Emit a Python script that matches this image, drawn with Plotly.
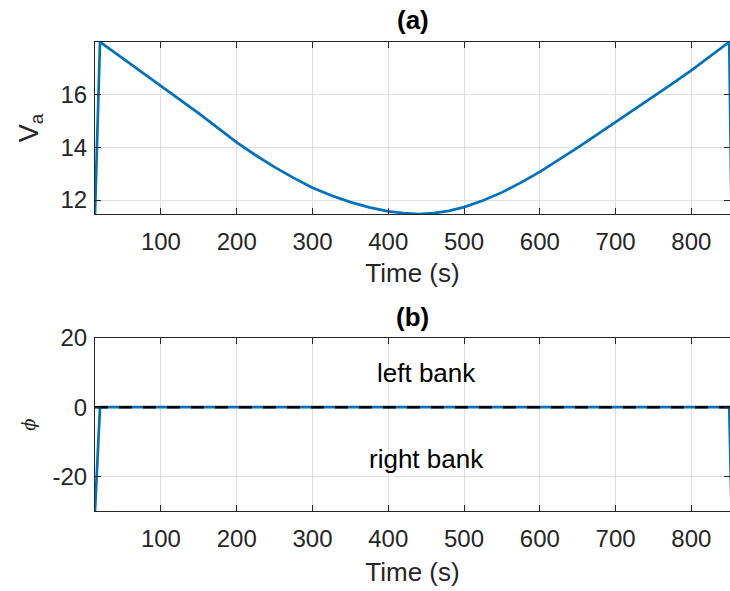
import plotly.graph_objects as go

# ---- data ----
t_va = [13, 19.6, 25, 50, 75, 100, 125, 150, 175, 200, 225, 250, 275, 300, 325, 350,
        375, 400, 420, 440, 460, 480, 500, 525, 550, 575, 600, 625, 650, 675, 700,
        725, 750, 775, 800, 825, 850, 853]
va = [11.47, 18.0, 17.89, 17.37, 16.87, 16.36, 15.83, 15.29, 14.74, 14.19, 13.70,
      13.25, 12.84, 12.47, 12.17, 11.92, 11.72, 11.57, 11.50, 11.47, 11.50, 11.59,
      11.73, 11.98, 12.29, 12.66, 13.07, 13.52, 13.99, 14.47, 14.95, 15.44, 15.93,
      16.42, 16.92, 17.45, 18.0, 11.5]

t_phi = [13, 15.2, 19.6, 850, 853]
phi = [-30, -20, 0, 0, -30]

ref_t = [13, 851]
ref_phi = [0, 0]

x_ticks = [100, 200, 300, 400, 500, 600, 700, 800]
va_ticks = [12, 14, 16]
phi_ticks = [-20, 0, 20]
phi_tick_text = ["-20", "0", "20"]

x_range = [13, 851]
va_range = [11.47, 18.0]
phi_range = [-30, 20]

# ---- styles ----
BLUE = "#0072BD"
AX = "#262626"
GRID = "#dfdfdf"
FONT = "Liberation Sans, Arial, sans-serif"

fig = go.Figure()
fig.add_trace(go.Scatter(x=t_va, y=va, mode="lines", line=dict(color=BLUE, width=2.7),
                         xaxis="x", yaxis="y", showlegend=False))
fig.add_trace(go.Scatter(x=t_phi, y=phi, mode="lines", line=dict(color=BLUE, width=2.7),
                         xaxis="x2", yaxis="y2", showlegend=False))
fig.add_trace(go.Scatter(x=ref_t, y=ref_phi, mode="lines",
                         line=dict(color="black", width=2.5, dash="13px,11px"),
                         xaxis="x2", yaxis="y2", showlegend=False))

common_x = dict(range=x_range, tickvals=x_ticks, ticks="inside", ticklen=6, tickwidth=1,
                tickcolor=AX, showline=True, linecolor=AX, linewidth=1, mirror="ticks",
                showgrid=True, gridcolor=GRID, gridwidth=1, zeroline=False, automargin=False,
                tickfont=dict(family=FONT, size=24, color=AX), ticklabelstandoff=6)
common_y = dict(ticks="inside", ticklen=6, tickwidth=1, tickcolor=AX, showline=True,
                linecolor=AX, linewidth=1, mirror="ticks", showgrid=True, gridcolor=GRID,
                gridwidth=1, zeroline=False, automargin=False,
                tickfont=dict(family=FONT, size=24, color=AX), ticklabelstandoff=2)

fig.update_layout(
    width=730, height=591, autosize=False,
    margin=dict(l=95, r=0, t=42, b=80, autoexpand=False),
    plot_bgcolor="white", paper_bgcolor="white",
    font=dict(family=FONT, color=AX),
    xaxis=dict(domain=[0, 1], anchor="y",
               title=dict(text="Time (s)", font=dict(family=FONT, size=26, color=AX), standoff=10),
               **common_x),
    yaxis=dict(domain=[0.6333, 1], anchor="x", range=va_range, tickvals=va_ticks,
               title=dict(text="V<sub>a</sub>", font=dict(family=FONT, size=27, color=AX), standoff=14),
               **common_y),
    xaxis2=dict(domain=[0, 1], anchor="y2",
                title=dict(text="Time (s)", font=dict(family=FONT, size=26, color=AX), standoff=12),
                **common_x),
    yaxis2=dict(domain=[0, 0.3689], anchor="x2", range=phi_range, tickvals=phi_ticks,
                ticktext=phi_tick_text,
                title=dict(text="<i>ϕ</i>", font=dict(family="DejaVu Serif", size=18, color=AX), standoff=12),
                **common_y),
    annotations=[
        dict(text="<b>(a)</b>", xref="paper", yref="paper", x=0.5, y=1.047,
             xanchor="center", yanchor="middle", showarrow=False,
             font=dict(family=FONT, size=26, color="black")),
        dict(text="<b>(b)</b>", xref="paper", yref="paper", x=0.5, y=0.4136,
             xanchor="center", yanchor="middle", showarrow=False,
             font=dict(family=FONT, size=26, color="black")),
        dict(text="left bank", xref="x2", yref="y2", x=450, y=10,
             xanchor="center", yanchor="middle", showarrow=False,
             font=dict(family=FONT, size=26, color="black")),
        dict(text="right bank", xref="x2", yref="y2", x=450, y=-15,
             xanchor="center", yanchor="middle", showarrow=False,
             font=dict(family=FONT, size=26, color="black")),
    ],
)

fig.write_html(
    "out.html",
    config={"responsive": False, "displayModeBar": False},
    default_width="730px", default_height="591px",
    post_script="document.body.style.margin='0';document.body.style.padding='0';"
                "document.body.style.overflow='hidden';",
)
